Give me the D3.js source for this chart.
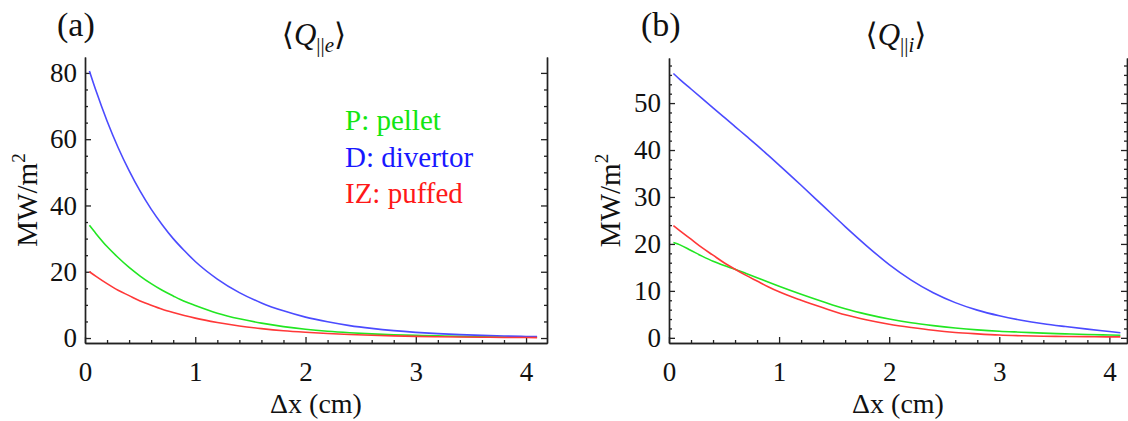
<!DOCTYPE html>
<html>
<head>
<meta charset="utf-8">
<script src="https://cdn.jsdelivr.net/npm/d3@7"></script>
<style>
  html, body { margin: 0; padding: 0; background: #fff; }
  svg { display: block; }
</style>
</head>
<body>
<svg id="chart" width="1128" height="421"></svg>
<script>
// Radial distance from separatrix (cm), shared by all profiles
const dx = [0.04, 0.1, 0.2, 0.3, 0.4, 0.5, 0.6, 0.7, 0.8, 0.9, 1.0, 1.2, 1.4, 1.6, 1.8,
            2.0, 2.2, 2.4, 2.6, 2.8, 3.0, 3.2, 3.4, 3.6, 3.8, 4.0, 4.1];

// (a) electron parallel heat flux <Q||e>, MW/m^2
const qePellet   = [34, 31.5, 27.6, 24.3, 21.3, 18.7, 16.4, 14.4, 12.7, 11.1, 9.8, 7.5, 5.8, 4.5, 3.45,
                    2.65, 2.05, 1.6, 1.25, 1.0, 0.8, 0.65, 0.5, 0.4, 0.33, 0.27, 0.25];
const qeDivertor = [80.6, 74.6, 65.5, 57.5, 50.5, 44.3, 38.9, 34.2, 30.0, 26.4, 23.1, 17.8, 13.7, 10.6, 8.2,
                    6.3, 4.9, 3.75, 2.9, 2.23, 1.72, 1.33, 1.02, 0.79, 0.61, 0.47, 0.41];
const qePuffed   = [20, 18.6, 16.4, 14.4, 12.8, 11.2, 9.9, 8.7, 7.7, 6.8, 6.0, 4.7, 3.65, 2.85, 2.2,
                    1.73, 1.35, 1.05, 0.82, 0.64, 0.5, 0.39, 0.3, 0.24, 0.18, 0.14, 0.13];

// (b) ion parallel heat flux <Q||i>, MW/m^2
const qiPellet   = [20.3, 19.8, 18.6, 17.4, 16.3, 15.4, 14.6, 13.7, 12.8, 11.9, 11.0, 9.3, 7.7, 6.2, 5.0,
                    4.0, 3.2, 2.6, 2.1, 1.7, 1.4, 1.2, 1.0, 0.85, 0.7, 0.6, 0.55];
const qiDivertor = [56.3, 55, 53, 51, 49, 47, 45, 43, 41, 38.9, 36.8, 32.5, 28.1, 23.7, 19.5,
                    15.6, 12.3, 9.6, 7.5, 5.9, 4.7, 3.75, 3.0, 2.4, 1.85, 1.35, 1.1];
const qiPuffed   = [23.9, 22.8, 21.0, 19.2, 17.6, 16.0, 14.6, 13.3, 12.1, 10.9, 9.8, 8.0, 6.4, 4.9, 3.8,
                    2.9, 2.2, 1.6, 1.15, 0.85, 0.6, 0.45, 0.35, 0.3, 0.25, 0.2, 0.2];

// Tick values
const xTicks  = [0, 1, 2, 3, 4];
const yTicksA = [0, 20, 40, 60, 80];
const yTicksB = [0, 10, 20, 30, 40, 50];

// Legend entries
const legendLabels = ["P: pellet", "D: divertor", "IZ: puffed"];

const colors = { pellet: "#22e622", divertor: "#4b4bff", puffed: "#ff3838" };
const legendColors = ["#12e612", "#1818ff", "#ff1818"];

const SERIF = "'Liberation Serif', 'Times New Roman', Times, 'DejaVu Serif', serif";

const svg = d3.select("#chart").style("font-family", SERIF);

const panels = [
  { tag: "(a)", sub: "||", subI: "e", left: 85, right: 547, top: 57, bottom: 343,
    xDom: [0, 4.19], yDom: [-1.5, 84.8], yTicks: yTicksA, yMinorStep: 5,
    series: [[qePellet, colors.pellet], [qeDivertor, colors.divertor], [qePuffed, colors.puffed]],
    yTitleX: 37, legend: true },
  { tag: "(b)", sub: "||", subI: "i", left: 669, right: 1127, top: 58, bottom: 343,
    xDom: [0, 4.16], yDom: [-1.1, 59.6], yTicks: yTicksB, yMinorStep: 2,
    series: [[qiPellet, colors.pellet], [qiDivertor, colors.divertor], [qiPuffed, colors.puffed]],
    yTitleX: 620, legend: false }
];

function range(a, b, step) {
  const out = [];
  for (let v = a; v <= b + 1e-9; v += step) out.push(+v.toFixed(6));
  return out;
}

panels.forEach(p => {
  const x = d3.scaleLinear().domain(p.xDom).range([p.left, p.right]);
  const y = d3.scaleLinear().domain(p.yDom).range([p.bottom, p.top]);
  const g = svg.append("g");

  const xMinor = range(0, p.xDom[1], 0.2).filter(v => Math.abs(v - Math.round(v)) > 1e-6);
  const yMinor = range(0, p.yDom[1], p.yMinorStep).filter(v => !p.yTicks.includes(v));

  const styleAxis = sel => {
    sel.attr("font-family", null).attr("font-size", null);
    sel.selectAll(".domain").attr("stroke", "#222").attr("stroke-width", 1.4);
    sel.selectAll(".tick line").attr("stroke", "#222").attr("stroke-width", 1.3);
    sel.selectAll("text").style("font-family", SERIF).style("font-size", "27px").attr("fill", "#111");
  };

  // bottom axis (ticks point inward)
  g.append("g").attr("transform", `translate(0,${p.bottom})`)
    .call(d3.axisBottom(x).tickValues(xMinor).tickSize(-3).tickFormat("").tickSizeOuter(0))
    .call(styleAxis);
  g.append("g").attr("transform", `translate(0,${p.bottom})`)
    .call(d3.axisBottom(x).tickValues(xTicks).tickSize(-6).tickPadding(19).tickFormat(d3.format("d")).tickSizeOuter(0))
    .call(styleAxis);

  // left axis
  g.append("g").attr("transform", `translate(${p.left},0)`)
    .call(d3.axisLeft(y).tickValues(yMinor).tickSize(-3).tickFormat("").tickSizeOuter(0))
    .call(styleAxis);
  g.append("g").attr("transform", `translate(${p.left},0)`)
    .call(d3.axisLeft(y).tickValues(p.yTicks).tickSize(-6).tickPadding(8).tickFormat(d3.format("d")).tickSizeOuter(0))
    .call(styleAxis);

  // right frame, mirrored ticks without labels
  g.append("g").attr("transform", `translate(${p.right},0)`)
    .call(d3.axisRight(y).tickValues(yMinor).tickSize(-3).tickFormat("").tickSizeOuter(0))
    .call(styleAxis);
  g.append("g").attr("transform", `translate(${p.right},0)`)
    .call(d3.axisRight(y).tickValues(p.yTicks).tickSize(-6).tickFormat("").tickSizeOuter(0))
    .call(styleAxis);

  // profiles
  const line = d3.line().x((d, i) => x(dx[i])).y(d => y(d)).curve(d3.curveMonotoneX);
  p.series.forEach(([vals, col]) => {
    g.append("path").datum(vals).attr("d", line)
      .attr("fill", "none").attr("stroke", col).attr("stroke-width", 1.6);
  });

  // panel tag
  g.append("text").attr("x", p.left - 28).attr("y", 36)
    .style("font-size", "34px").attr("fill", "#111").text(p.tag);

  // title <Q||e> / <Q||i>
  const cx = (p.left + p.right) / 2 - 2;
  const t = g.append("text").attr("x", cx).attr("y", 45).attr("text-anchor", "middle")
    .style("font-size", "31px").attr("fill", "#111");
  t.append("tspan").text("\u27E8");
  t.append("tspan").style("font-style", "italic").text("Q");
  t.append("tspan").style("font-size", "21px").attr("dy", 7).text(p.sub);
  t.append("tspan").style("font-size", "21px").style("font-style", "italic").text(p.subI);
  t.append("tspan").attr("dy", -7).text("\u27E9");

  // axis titles
  g.append("text").attr("x", (p.left + p.right) / 2).attr("y", 413)
    .attr("text-anchor", "middle").style("font-size", "28px").attr("fill", "#111").text("\u0394x (cm)");
  const yt = g.append("text").attr("transform", `translate(${p.yTitleX},${(p.top + p.bottom) / 2}) rotate(-90)`)
    .attr("text-anchor", "middle").style("font-size", "29px").attr("fill", "#111");
  yt.append("tspan").text("MW/m");
  yt.append("tspan").style("font-size", "19px").attr("dy", -12).text("2");

  if (p.legend) {
    legendLabels.forEach((lab, i) => {
      g.append("text").attr("x", 345).attr("y", 130 + i * 36.5)
        .style("font-size", "29px").attr("fill", legendColors[i]).text(lab);
    });
  }
});
</script>
</body>
</html>
